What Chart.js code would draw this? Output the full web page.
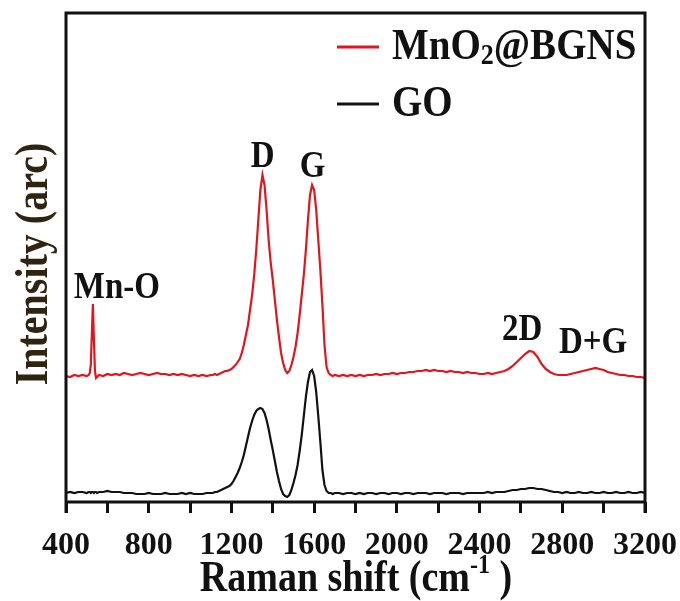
<!DOCTYPE html>
<html>
<head>
<meta charset="utf-8">
<script src="https://cdn.jsdelivr.net/npm/chart.js@4/dist/chart.umd.min.js"></script>
<style>
  html, body { margin: 0; padding: 0; background: #ffffff; }
  #wrap { width: 680px; height: 601px; }
</style>
</head>
<body>
<div id="wrap"><canvas id="raman" width="680" height="601"></canvas></div>
<script>
// Raman shift grid (cm^-1)
const shift = [
  400, 420, 440, 460, 480, 500, 510, 515, 520, 525, 530, 535, 540, 545, 550,
  560, 580, 600, 620, 640, 660, 680, 700, 720, 740, 760, 780, 800, 820, 840,
  860, 880, 900, 920, 940, 960, 980, 1000, 1020, 1040, 1060, 1080, 1100,
  1110, 1120, 1130, 1140, 1150, 1160, 1170, 1180, 1190, 1200,
  1210, 1220, 1230, 1240, 1250, 1260, 1270, 1280, 1290, 1300,
  1310, 1320, 1330, 1340, 1350, 1360, 1370, 1380, 1390, 1400,
  1410, 1420, 1430, 1440, 1450, 1460, 1470, 1480, 1490, 1500,
  1510, 1520, 1530, 1540, 1550, 1560, 1570, 1580, 1590, 1600,
  1610, 1620, 1630, 1640, 1650, 1660, 1670, 1680, 1690, 1700,
  1720, 1740, 1760, 1780, 1800, 1820, 1840, 1860, 1880, 1900,
  1920, 1940, 1960, 1980, 2000, 2020, 2040, 2060, 2080, 2100,
  2120, 2140, 2160, 2180, 2200, 2220, 2240, 2260, 2280, 2300,
  2320, 2340, 2360, 2380, 2400, 2420, 2440, 2460, 2480, 2500,
  2520, 2540, 2560, 2580, 2600, 2620, 2640, 2660, 2680, 2700,
  2720, 2740, 2760, 2780, 2800, 2820, 2840, 2860, 2880, 2900,
  2920, 2940, 2960, 2980, 3000, 3020, 3040, 3060, 3080, 3100,
  3120, 3140, 3160, 3180, 3200
];

// MnO2@BGNS spectrum (stacked, arbitrary units)
const mno2Bgns = [
  126, 125, 127, 126, 127, 126, 127, 129, 137, 168, 198, 162, 131, 124, 125,
  127, 126, 128, 127, 128, 127, 129, 128, 127, 128, 129, 128, 127, 128, 129,
  128, 128, 127, 128, 127, 128, 127, 126, 127, 126, 127, 126, 127,
  127, 128, 127, 128, 129, 130, 131, 131, 132, 133,
  135, 137, 140, 143, 149, 157, 167, 177, 192, 207,
  227, 252, 282, 312, 327, 317, 292, 262, 239, 222,
  202, 182, 165, 149, 139, 132, 129, 131, 137, 145,
  155, 169, 187, 207, 227, 252, 282, 307, 317, 312,
  292, 262, 232, 197, 157, 135, 129, 127, 126, 127,
  126, 127, 126, 127, 126, 127, 126, 127, 127, 128,
  127, 128, 128, 129, 128, 129, 129, 130, 130, 131,
  131, 132, 131, 132, 131, 131, 130, 131, 130, 130,
  129, 130, 129, 129, 128, 128, 129, 128, 129, 130,
  131, 133, 136, 140, 144, 148, 151, 150, 145, 138,
  133, 130, 128, 127, 127, 127, 128, 129, 130, 131,
  132, 133, 134, 133, 132, 130, 129, 128, 127, 127,
  126, 126, 125, 125, 124
];

// GO spectrum (stacked, arbitrary units)
const go = [
  9, 10, 9, 10, 10, 9, 10, 10, 9, 10, 10, 9, 10, 10, 9,
  10, 10, 11, 10, 10, 10, 9, 9, 9, 8, 8, 8, 9, 8, 8,
  8, 9, 8, 8, 8, 9, 8, 9, 8, 8, 8, 9, 9,
  9, 10, 10, 11, 12, 13, 14, 15, 16, 18,
  21, 25, 29, 34, 40, 47, 56, 65, 74, 81,
  87, 91, 93, 94, 93, 89, 82, 73, 62, 52,
  41, 30, 21, 13, 8, 6, 5, 7, 12, 19,
  27, 37, 51, 67, 86, 105, 120, 130, 132, 126,
  110, 86, 60, 32, 17, 11, 9, 9, 8, 9,
  9, 8, 9, 9, 8, 9, 8, 9, 9, 8,
  9, 9, 8, 9, 9, 8, 9, 9, 8, 9,
  9, 9, 8, 9, 9, 9, 8, 9, 9, 9,
  8, 9, 9, 9, 9, 9, 10, 9, 10, 10,
  10, 11, 12, 12, 13, 13, 14, 14, 13, 13,
  12, 11, 10, 10, 9, 10, 9, 9, 10, 9,
  9, 10, 9, 9, 10, 9, 9, 10, 9, 9,
  10, 9, 9, 10, 9
];

// Band labels placed at (shift, intensity)
const bandNames = ['Mn-O', 'D', 'G', '2D', 'D+G'];
const bandShift = [646, 1351, 1592, 2606, 2949];
const bandLevel = [214, 345, 335, 172, 159];

const serif = '"Liberation Serif", "Times New Roman", serif';
const ink = '#111111';
const redLine = '#e3141c';
const stretch = 1.15; // text is set slightly tall

// draws a run of text pieces (normal / sub / sup) starting at x
function drawRuns(ctx, runs, x, y) {
  let cx = x;
  runs.forEach(r => {
    ctx.font = 'bold ' + r.size + 'px ' + serif;
    ctx.fillText(r.text, cx, y + (r.dy || 0));
    cx += ctx.measureText(r.text).width;
  });
  return cx - x;
}
function runsWidth(ctx, runs) {
  let w = 0;
  runs.forEach(r => {
    ctx.font = 'bold ' + r.size + 'px ' + serif;
    w += ctx.measureText(r.text).width;
  });
  return w;
}
function tallRuns(ctx, runs, x, y) {
  ctx.save();
  ctx.translate(x, y);
  ctx.scale(1, stretch);
  drawRuns(ctx, runs, 0, 0);
  ctx.restore();
}

const framePlugin = {
  id: 'frame',
  afterDatasetsDraw(chart) {
    const { ctx, chartArea: a } = chart;
    ctx.save();
    ctx.strokeStyle = ink;
    ctx.lineWidth = 3;
    ctx.beginPath();
    ctx.moveTo(a.left, a.bottom + 11);
    ctx.lineTo(a.left, a.top);
    ctx.lineTo(a.right, a.top);
    ctx.lineTo(a.right, a.bottom + 11);
    ctx.moveTo(a.left, a.bottom);
    ctx.lineTo(a.right, a.bottom);
    ctx.stroke();
    ctx.restore();
  }
};

const textPlugin = {
  id: 'texts',
  afterDraw(chart) {
    const { ctx, scales } = chart;
    const xs = scales.x, ys = scales.y;
    ctx.save();
    ctx.fillStyle = ink;
    ctx.textBaseline = 'middle';

    // band labels
    ctx.textAlign = 'center';
    bandNames.forEach((name, i) => {
      tallRuns(ctx, [{ text: name, size: 33 }],
        xs.getPixelForValue(bandShift[i]), ys.getPixelForValue(bandLevel[i]));
    });

    // legend
    ctx.textAlign = 'left';
    const ds = chart.data.datasets;
    const legendRows = [
      [{ text: 'MnO', size: 39 }, { text: '2', size: 26, dy: 8 }, { text: '@BGNS', size: 39 }],
      [{ text: 'GO', size: 39 }]
    ];
    const rowY = [47, 104];
    legendRows.forEach((runs, i) => {
      ctx.strokeStyle = ds[i].borderColor;
      ctx.lineWidth = 3;
      ctx.beginPath();
      ctx.moveTo(337, rowY[i]);
      ctx.lineTo(379, rowY[i]);
      ctx.stroke();
      ctx.fillStyle = ink;
      tallRuns(ctx, runs, 392, rowY[i]);
    });

    // x axis title
    const xt = [
      { text: 'Raman shift (cm', size: 38 },
      { text: '-1', size: 24, dy: -12 },
      { text: ' )', size: 38 }
    ];
    const w = runsWidth(ctx, xt);
    tallRuns(ctx, xt, 356 - w / 2, 580);

    // y axis title
    ctx.translate(35, 264);
    ctx.rotate(-Math.PI / 2);
    ctx.scale(1, stretch);
    ctx.textAlign = 'center';
    ctx.fillStyle = '#2f2410';
    ctx.font = 'bold 40px ' + serif;
    ctx.fillText('Intensity (arc)', 0, 0);
    ctx.restore();
  }
};

new Chart(document.getElementById('raman'), {
  type: 'line',
  data: {
    datasets: [
      {
        label: 'MnO₂@BGNS',
        data: shift.map((x, i) => ({ x, y: mno2Bgns[i] })),
        borderColor: redLine,
        borderWidth: 2.2,
        pointRadius: 0,
        tension: 0
      },
      {
        label: 'GO',
        data: shift.map((x, i) => ({ x, y: go[i] })),
        borderColor: ink,
        borderWidth: 2.2,
        pointRadius: 0,
        tension: 0
      }
    ]
  },
  options: {
    responsive: false,
    animation: false,
    layout: { padding: { left: 66, right: 35, top: 13, bottom: 0 } },
    plugins: { legend: { display: false }, tooltip: { enabled: false } },
    scales: {
      x: {
        type: 'linear',
        min: 400,
        max: 3200,
        afterFit(scale) {
          scale.height = 99;
          scale.paddingLeft = 0;
          scale.paddingRight = 0;
        },
        border: { display: false },
        grid: {
          drawOnChartArea: false,
          drawTicks: true,
          tickLength: 11,
          tickWidth: 3,
          tickColor: ink
        },
        ticks: {
          stepSize: 200,
          autoSkip: false,
          maxRotation: 0,
          padding: 14,
          color: ink,
          font: { family: serif, weight: 'bold', size: 32 },
          callback: v => (v % 400 === 0 ? String(v) : '')
        }
      },
      y: { display: false, min: 0, max: 489 }
    }
  },
  plugins: [framePlugin, textPlugin]
});
</script>
</body>
</html>
